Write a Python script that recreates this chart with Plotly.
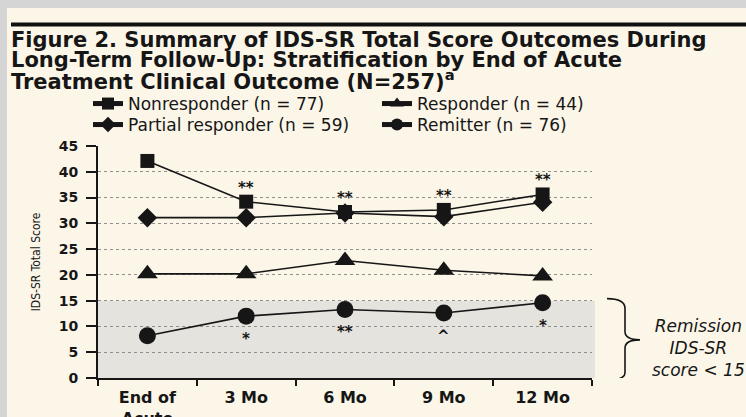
import plotly.graph_objects as go

# --- data ---
timepoints = ["End of<br>Acute", "3 Mo", "6 Mo", "9 Mo", "12 Mo"]

nonresponder = [42.1, 34.2, 32.2, 32.6, 35.6]
partial_responder = [31.1, 31.1, 32.0, 31.3, 34.1]
responder = [20.2, 20.2, 22.8, 20.9, 19.8]
remitter = [8.2, 12.0, 13.3, 12.6, 14.6]

sig_above = ["", "**", "**", "**", "**"]   # over nonresponders
sig_below = ["", "*", "**", "^", "*"]      # under remitters

title_lines = [
    "Figure 2. Summary of IDS-SR Total Score Outcomes During",
    "Long-Term Follow-Up: Stratification by End of Acute",
    "Treatment Clinical Outcome (N=257)<sup>a</sup>",
]

W, H = 746, 417
INK = "#161616"
PAPER = "#fcf6e9"
WIDE = "DejaVu Sans"


def fx(p):
    # pixel from left -> paper fraction
    return p / W


def fy(p):
    # pixel from top -> paper fraction
    return 1 - p / H


series = [
    ("Nonresponder (n = 77)", nonresponder, "square", 14, "legend"),
    ("Responder (n = 44)", responder, "triangle-up", 18, "legend2"),
    ("Partial responder (n = 59)", partial_responder, "diamond", 15, "legend3"),
    ("Remitter (n = 76)", remitter, "circle", 17, "legend4"),
]

fig = go.Figure()
for name, vals, sym, size, leg in series:
    fig.add_trace(go.Scatter(
        x=timepoints, y=vals, name=name, mode="lines+markers",
        line=dict(color=INK, width=1.6),
        marker=dict(symbol=sym, size=size, color=INK),
        legend=leg, showlegend=True,
    ))

# significance marks
for i, t in enumerate(timepoints):
    if sig_above[i]:
        fig.add_annotation(x=t, y=nonresponder[i], text=sig_above[i], showarrow=False,
                           yshift=14, font=dict(size=15, color=INK, family=WIDE, weight="bold"))
    if sig_below[i]:
        fig.add_annotation(x=t, y=remitter[i], text=sig_below[i], showarrow=False,
                           yshift=-23, font=dict(size=15, color=INK, family=WIDE, weight="bold"))

# title lines
for i, line in enumerate(title_lines):
    fig.add_annotation(xref="paper", yref="paper", x=fx(9), y=fy(40 + 20 * i),
                       xanchor="left", yanchor="middle", showarrow=False, text="<b>%s</b>" % line,
                       font=dict(size=21, color=INK, family=WIDE))

# remission note
fig.add_annotation(xref="paper", yref="paper", x=fx(698), y=fy(348), showarrow=False,
                   xanchor="center", yanchor="middle",
                   text="<i>Remission<br>IDS-SR<br>score &lt; 15</i>", align="center",
                   font=dict(size=17, color=INK, family=WIDE))

shapes = [
    # remission band
    dict(type="rect", xref="x domain", yref="y", x0=0, x1=1.006, y0=0, y1=15,
         fillcolor="#e5e3de", line_width=0, layer="below"),
    # brace
    dict(type="path", xref="paper", yref="y", line=dict(color=INK, width=1.6),
         path="M %f,15.4 Q %f,15.4 %f,13.5 L %f,9 Q %f,7.4 %f,7.4 Q %f,7.4 %f,5.8 L %f,1 Q %f,-0.4 %f,-0.4" % (
             fx(607), fx(625), fx(625), fx(625), fx(625), fx(640), fx(625), fx(625), fx(625), fx(625), fx(607))),
    # photo frame
    dict(type="rect", xref="paper", yref="paper", x0=0, x1=1, y0=fy(8), y1=1,
         fillcolor="#d5d5d5", line_width=0),
    dict(type="rect", xref="paper", yref="paper", x0=0, x1=fx(7), y0=0, y1=1,
         fillcolor="#d5d5d5", line_width=0),
    dict(type="rect", xref="paper", yref="paper", x0=fx(11), x1=1, y0=fy(26.5), y1=fy(22.5),
         fillcolor="#111111", line_width=0),
]

leg_common = dict(bgcolor="rgba(0,0,0,0)", font=dict(size=17, color=INK, family=WIDE),
                  itemsizing="constant", xanchor="left", yanchor="middle", visible=True)

fig.update_layout(
    width=W, height=H,
    margin=dict(l=0, r=0, t=0, b=0),
    paper_bgcolor=PAPER, plot_bgcolor=PAPER,
    font=dict(family=WIDE, color=INK),
    showlegend=True,
    shapes=shapes,
    legend=dict(x=fx(88), y=fy(104), **leg_common),
    legend2=dict(x=fx(377), y=fy(104), **leg_common),
    legend3=dict(x=fx(88), y=fy(125), **leg_common),
    legend4=dict(x=fx(377), y=fy(125), **leg_common),
)

# plot area: x 98..592 px, y 146..378 px
fig.update_xaxes(
    domain=[fx(98), fx(592)], automargin=False,
    type="category", range=[-0.5, 4.5], showline=True, linecolor=INK, linewidth=2,
    ticks="outside", tickson="boundaries", ticklen=6, tickcolor=INK, tickwidth=2,
    ticklabelstandoff=4,
    tickfont=dict(size=16, color=INK, family=WIDE, weight="bold"), showgrid=False,
)
fig.update_yaxes(
    domain=[fy(378), fy(146)], automargin=False,
    range=[0, 45], dtick=5, showline=True, linecolor=INK, linewidth=2,
    ticks="outside", ticklen=10, tickcolor=INK, tickwidth=2, ticklabelstandoff=5,
    tickfont=dict(size=14, color=INK, family=WIDE, weight="bold"),
    showgrid=True, gridcolor="#8f8f8f", griddash="dot", gridwidth=1, zeroline=False,
    title=dict(text="IDS-SR Total Score", standoff=16,
               font=dict(size=12, color=INK, family="DejaVu Sans Condensed, DejaVu Sans")),
)

fig.write_html("out.html", config={"displayModeBar": False},
               post_script="document.body.style.margin='0';")
